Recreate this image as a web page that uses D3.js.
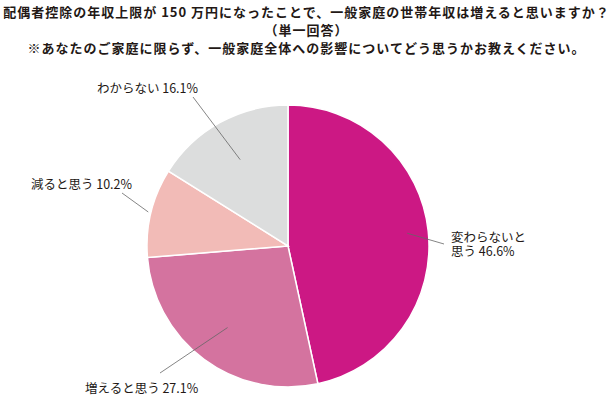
<!DOCTYPE html>
<html>
<head>
<meta charset="utf-8">
<script src="https://cdn.jsdelivr.net/npm/d3@7"></script>
<style>
  body { margin: 0; background: #fff; }
  text { font-family: "Noto Sans CJK JP", "Noto Sans", sans-serif; fill: #231815; }
</style>
</head>
<body>
<div id="chart"></div>
<script>
var answers = ["変わらないと思う", "増えると思う", "減ると思う", "わからない"];
var shares = [46.6, 27.1, 10.2, 16.1];
var colors = ["#cc1884", "#d4739f", "#f2bbb7", "#dcdddd"];
var titleLines = [
    "配偶者控除の年収上限が 150 万円になったことで、一般家庭の世帯年収は増えると思いますか？",
    "（単一回答）",
    "※あなたのご家庭に限らず、一般家庭全体への影響についてどう思うかお教えください。"
];

var width = 613;
var height = 399;
var cx = 288, cy = 246, radius = 141;

var svg = d3.select('#chart')
    .append('svg')
    .attr('width', width)
    .attr('height', height);

// title
svg.append("g")
    .selectAll("text")
    .data(titleLines)
    .enter()
    .append("text")
    .attr("x", width / 2)
    .attr("y", (d, i) => 17 + i * 18)
    .attr("text-anchor", "middle")
    .attr("font-size", 13)
    .attr("letter-spacing", 1)
    .attr("font-weight", "bold")
    .text(d => d);

var pie = d3.pie().sort(null).value(d => d);
var arc = d3.arc().innerRadius(0).outerRadius(radius);

var g = svg.append("g").attr("transform", "translate(" + cx + "," + cy + ")");

var arcs = pie(shares);

g.selectAll("path")
    .data(arcs)
    .enter()
    .append("path")
    .attr("d", arc)
    .attr("fill", (d, i) => colors[i])
    .attr("stroke", "#fff")
    .attr("stroke-width", 1.5);

// leader lines: end point and label position for each slice
var leaders = [
    { end: [444, 244], label: ["変わらないと", "思う 46.6%"], x: 451, y: 242, anchor: "start" },
    { end: [160, 373], label: ["増えると思う 27.1%"], x: 85, y: 393, anchor: "start" },
    { end: [122, 193], label: ["減ると思う 10.2%"], x: 132, y: 189, anchor: "end" },
    { end: [193, 97], label: ["わからない 16.1%"], x: 198, y: 93, anchor: "end" }
];
var innerFrac = [0.85, 0.72, 1.02, 0.7];

arcs.forEach(function(d, i) {
    var a = (d.startAngle + d.endAngle) / 2;
    var r = radius * innerFrac[i];
    var px = cx + Math.sin(a) * r;
    var py = cy - Math.cos(a) * r;
    svg.append("line")
        .attr("x1", px).attr("y1", py)
        .attr("x2", leaders[i].end[0]).attr("y2", leaders[i].end[1])
        .attr("stroke", "#666")
        .attr("stroke-width", 0.8);
    var t = svg.append("text")
        .attr("x", leaders[i].x)
        .attr("y", leaders[i].y)
        .attr("text-anchor", leaders[i].anchor)
        .attr("font-size", 12.5);
    leaders[i].label.forEach(function(s, j) {
        t.append("tspan").attr("x", leaders[i].x).attr("dy", j == 0 ? 0 : 14).text(s);
    });
});
</script>
</body>
</html>
